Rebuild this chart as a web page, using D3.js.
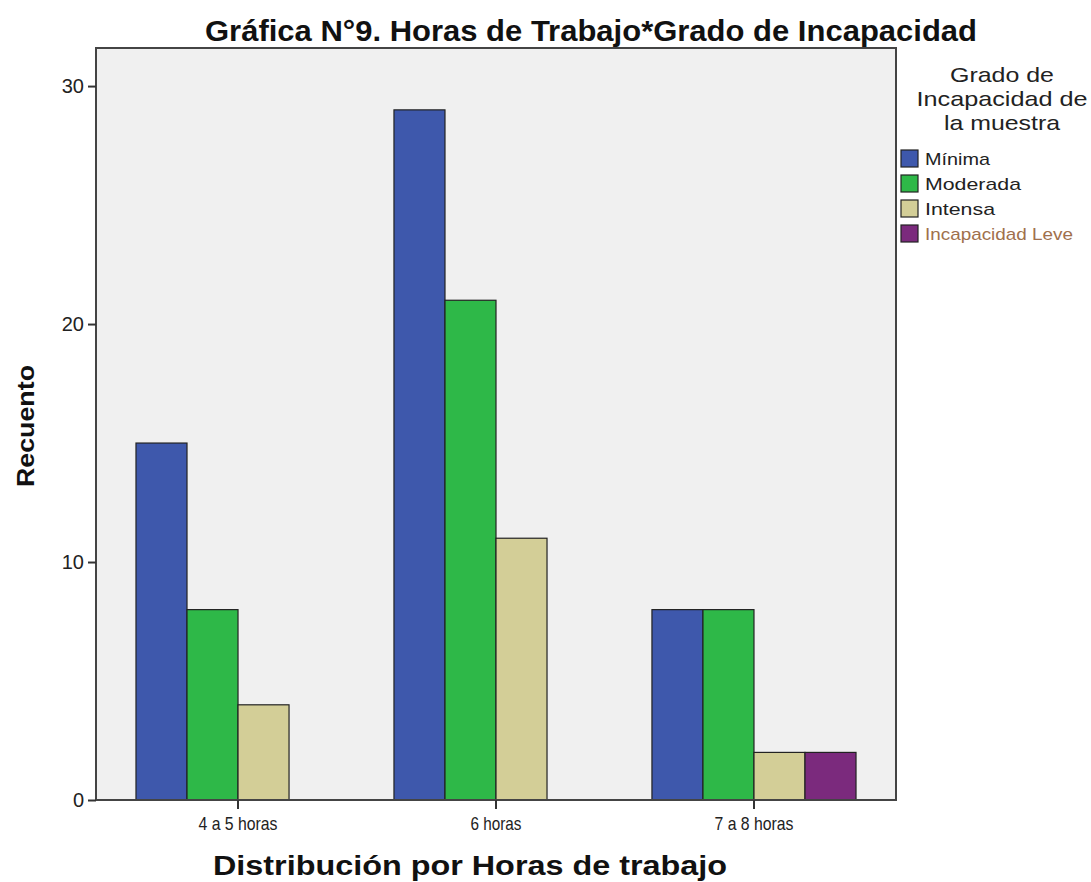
<!DOCTYPE html>
<html>
<head>
<meta charset="utf-8">
<script src="https://cdn.jsdelivr.net/npm/d3@7"></script>
<style>
  body { margin: 0; background: #fff; }
  text { font-family: "Liberation Sans", Arial, sans-serif; }
</style>
</head>
<body>
<div id="viz"></div>
<script>
// data
var categories = ["4 a 5 horas", "6 horas", "7 a 8 horas"];
var series = ["Mínima", "Moderada", "Intensa", "Incapacidad Leve"];
var colors = ["#3e58ac", "#2eb848", "#d3ce97", "#7b2a7d"];
var minima   = [15, 29, 8];
var moderada = [8, 21, 8];
var intensa  = [4, 11, 2];
var leve     = [0, 0, 2];
var yTicks = [0, 10, 20, 30];

var values = [minima, moderada, intensa, leve];

var width = 1091, height = 882;
var plot = {left: 96, right: 896, top: 48, bottom: 800};

var svg = d3.select("#viz")
  .append("svg")
  .attr("width", width)
  .attr("height", height);

// scales
var x0 = d3.scaleBand()
  .domain(categories)
  .range([plot.left, plot.right])
  .paddingInner(0.209)
  .paddingOuter(0.155);

var x1 = d3.scaleBand()
  .domain(series)
  .range([0, x0.bandwidth()]);

var y = d3.scaleLinear()
  .domain([0, 31.6])
  .range([plot.bottom, plot.top]);

// plot background
svg.append("rect")
  .attr("x", plot.left)
  .attr("y", plot.top)
  .attr("width", plot.right - plot.left)
  .attr("height", plot.bottom - plot.top)
  .attr("fill", "#f0f0f0");

// bars
var rows = [];
categories.forEach((c, i) => {
  series.forEach((s, j) => {
    if (values[j][i] > 0) rows.push({cat: c, ser: s, idx: j, val: values[j][i]});
  });
});

svg.append("g")
  .selectAll("rect")
  .data(rows)
  .enter().append("rect")
  .attr("x", d => x0(d.cat) + x1(d.ser))
  .attr("y", d => y(d.val))
  .attr("width", x1.bandwidth())
  .attr("height", d => y(0) - y(d.val))
  .attr("fill", d => colors[d.idx])
  .attr("stroke", "#222")
  .attr("stroke-width", 1.2);

// plot frame
svg.append("rect")
  .attr("x", plot.left)
  .attr("y", plot.top)
  .attr("width", plot.right - plot.left)
  .attr("height", plot.bottom - plot.top)
  .attr("fill", "none")
  .attr("stroke", "#444")
  .attr("stroke-width", 2);

// y axis
var yAxis = svg.append("g")
  .attr("transform", "translate(" + plot.left + ",0)")
  .call(d3.axisLeft(y).tickValues(yTicks).tickSize(8).tickPadding(4).tickFormat(d3.format("d")));
yAxis.select(".domain").remove();
yAxis.selectAll("line").attr("stroke", "#333").attr("stroke-width", 2);
yAxis.selectAll("text")
  .style("font-size", "20px")
  .attr("fill", "#222");

// x axis
var xAxis = svg.append("g")
  .attr("transform", "translate(0," + plot.bottom + ")")
  .call(d3.axisBottom(x0).tickSize(9).tickPadding(8));
xAxis.select(".domain").remove();
xAxis.selectAll("line").attr("stroke", "#333").attr("stroke-width", 2);
xAxis.selectAll("text")
  .style("font-size", "19px")
  .attr("fill", "#222")
  .attr("textLength", d => d === "6 horas" ? 51 : 79)
  .attr("lengthAdjust", "spacingAndGlyphs");

// title
svg.append("text")
  .attr("x", 591)
  .attr("y", 41)
  .attr("text-anchor", "middle")
  .style("font-size", "29px")
  .style("font-weight", "bold")
  .attr("fill", "#111")
  .attr("textLength", 772)
  .attr("lengthAdjust", "spacingAndGlyphs")
  .text("Gráfica N°9. Horas de Trabajo*Grado de Incapacidad");

// axis titles
svg.append("text")
  .attr("x", 470)
  .attr("y", 875)
  .attr("text-anchor", "middle")
  .style("font-size", "27px")
  .style("font-weight", "bold")
  .attr("fill", "#111")
  .attr("textLength", 514)
  .attr("lengthAdjust", "spacingAndGlyphs")
  .text("Distribución por Horas de trabajo");

svg.append("text")
  .attr("transform", "translate(34,426) rotate(-90)")
  .attr("text-anchor", "middle")
  .style("font-size", "24px")
  .style("font-weight", "bold")
  .attr("fill", "#111")
  .attr("textLength", 122)
  .attr("lengthAdjust", "spacingAndGlyphs")
  .text("Recuento");

// legend
var legendTitle = ["Grado de", "Incapacidad de", "la muestra"];
var legendTitleLen = [104, 171, 116];
svg.append("g")
  .selectAll("text")
  .data(legendTitle)
  .enter().append("text")
  .attr("x", 1002)
  .attr("y", (d, i) => 82 + i * 24)
  .attr("text-anchor", "middle")
  .style("font-size", "21px")
  .attr("fill", "#222")
  .attr("textLength", (d, i) => legendTitleLen[i])
  .attr("lengthAdjust", "spacingAndGlyphs")
  .text(d => d);

var legendLen = [65, 96, 70, 148];
var legend = svg.append("g")
  .selectAll("g")
  .data(series)
  .enter().append("g")
  .attr("transform", (d, i) => "translate(901," + (150 + i * 25) + ")");

legend.append("rect")
  .attr("width", 17)
  .attr("height", 17)
  .attr("fill", (d, i) => colors[i])
  .attr("stroke", "#222")
  .attr("stroke-width", 1.2);

legend.append("text")
  .attr("x", 24)
  .attr("y", 15)
  .style("font-size", "17px")
  .attr("fill", (d, i) => i === 3 ? "#a0704c" : "#222")
  .attr("textLength", (d, i) => legendLen[i])
  .attr("lengthAdjust", "spacingAndGlyphs")
  .text(d => d);
</script>
</body>
</html>
